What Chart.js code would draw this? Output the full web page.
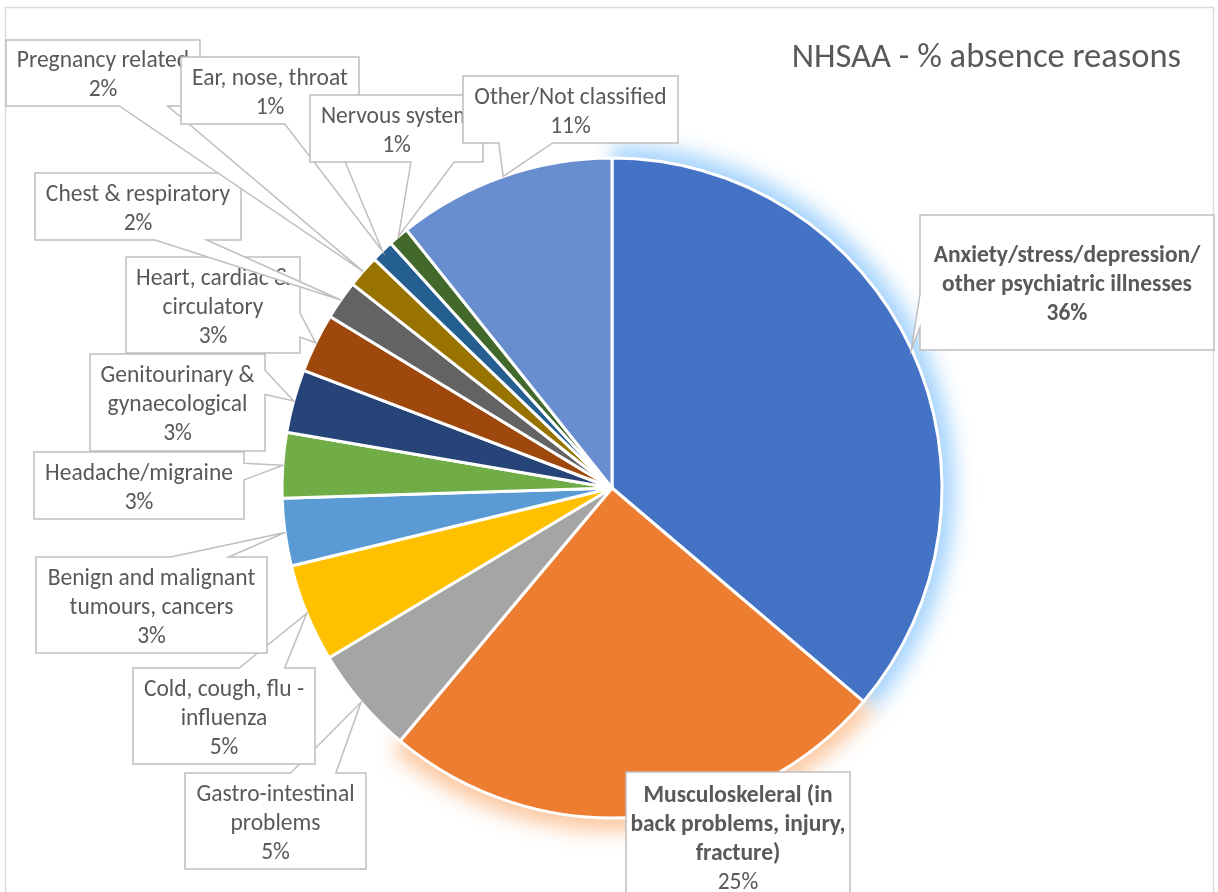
<!DOCTYPE html>
<html>
<head>
<meta charset="utf-8">
<title>NHSAA - % absence reasons</title>
<script src="https://cdn.jsdelivr.net/npm/chart.js@4.4.1/dist/chart.umd.min.js"></script>
<style>
  html, body { margin: 0; padding: 0; background: #fff; }
  canvas { display: block; }
</style>
</head>
<body>
<canvas id="absenceChart" width="1218" height="892"></canvas>
<script>
// Absence reasons, clockwise from 12 o'clock
var categories = [
    'Anxiety/stress/depression/other psychiatric illnesses',
    'Musculoskeleral (in back problems, injury, fracture)',
    'Gastro-intestinal problems',
    'Cold, cough, flu - influenza',
    'Benign and malignant tumours, cancers',
    'Headache/migraine',
    'Genitourinary & gynaecological',
    'Heart, cardiac & circulatory',
    'Chest & respiratory',
    'Pregnancy related',
    'Ear, nose, throat',
    'Nervous system',
    'Other/Not classified'
];
var values = [36.2, 24.9, 5.3, 4.8, 3.3, 3.2, 3.1, 2.9, 1.9, 1.6, 1.1, 1.0, 10.7];
var sliceColors = ['#4472C4', '#ED7D31', '#A5A5A5', '#FFC000', '#5B9BD5', '#70AD47',
    '#264478', '#9E480E', '#636363', '#997300', '#255E91', '#43682B', '#698ED0'];
var chartTitle = 'NHSAA - % absence reasons';

// callout boxes (same order as categories)
var calloutBoxes = [
    { x: 920, y: 215, w: 294, h: 135, bold: 'all' },
    { x: 626, y: 772, w: 224, h: 130, bold: 'name' },
    { x: 185, y: 773, w: 181, h: 96 },
    { x: 133, y: 668, w: 182, h: 96 },
    { x: 36, y: 557, w: 231, h: 96 },
    { x: 34, y: 452, w: 210, h: 67 },
    { x: 90, y: 354, w: 175, h: 97 },
    { x: 126, y: 257, w: 174, h: 96 },
    { x: 35, y: 173, w: 206, h: 67 },
    { x: 6, y: 40, w: 194, h: 66 },
    { x: 181, y: 57, w: 178, h: 67 },
    { x: 310, y: 95, w: 173, h: 67 },
    { x: 463, y: 76, w: 215, h: 67 }
];

var textColor = '#595959';
var fontFamily = 'Carlito, Lato, "Open Sans", sans-serif';
var lineHeight = 29;

function wrapText(ctx, text, maxWidth) {
    var tokens = text.match(/[^ \/]+\/?|\//g);
    var lines = [], line = '';
    tokens.forEach(function (tok) {
        var joiner = (line === '' || line.slice(-1) === '/') ? '' : ' ';
        var test = line + joiner + tok;
        if (line !== '' && ctx.measureText(test).width > maxWidth) {
            lines.push(line);
            line = tok;
        } else {
            line = test;
        }
    });
    if (line) lines.push(line);
    return lines;
}

// rectangle callout with a wedge pointing at (tx, ty)
function calloutPath(ctx, b, tx, ty) {
    var l = b.x, t = b.y, r = b.x + b.w, bt = b.y + b.h;
    var dx = tx - (l + b.w / 2), dy = ty - (t + b.h / 2);
    var inside = tx >= l && tx <= r && ty >= t && ty <= bt;
    var vertical = Math.abs(dy) > Math.abs(dx * b.h / b.w);
    var x1 = l + b.w * (dx > 0 ? 7 : 2) / 12, x2 = l + b.w * (dx > 0 ? 10 : 5) / 12;
    var y1 = t + b.h * (dy > 0 ? 7 : 2) / 12, y2 = t + b.h * (dy > 0 ? 10 : 5) / 12;
    ctx.beginPath();
    ctx.moveTo(l, t);
    if (!inside && vertical && dy < 0) { ctx.lineTo(x1, t); ctx.lineTo(tx, ty); ctx.lineTo(x2, t); }
    ctx.lineTo(r, t);
    if (!inside && !vertical && dx > 0) { ctx.lineTo(r, y1); ctx.lineTo(tx, ty); ctx.lineTo(r, y2); }
    ctx.lineTo(r, bt);
    if (!inside && vertical && dy > 0) { ctx.lineTo(x2, bt); ctx.lineTo(tx, ty); ctx.lineTo(x1, bt); }
    ctx.lineTo(l, bt);
    if (!inside && !vertical && dx < 0) { ctx.lineTo(l, y2); ctx.lineTo(tx, ty); ctx.lineTo(l, y1); }
    ctx.closePath();
}

var frameAndTitle = {
    id: 'frameAndTitle',
    beforeDraw: function (chart) {
        var ctx = chart.ctx;
        ctx.save();
        ctx.fillStyle = '#fff';
        ctx.fillRect(0, 0, chart.width, chart.height);
        ctx.strokeStyle = '#D9D9D9';
        ctx.lineWidth = 1.5;
        ctx.strokeRect(5.5, 7.5, 1208, 900);
        ctx.restore();
    },
    afterDraw: function (chart) {
        var ctx = chart.ctx;
        ctx.save();
        ctx.fillStyle = textColor;
        ctx.font = '34.5px ' + fontFamily;
        ctx.textAlign = 'right';
        ctx.textBaseline = 'middle';
        ctx.fillText(chartTitle, 1181, 58);
        ctx.restore();
    }
};

var sliceGlow = {
    id: 'sliceGlow',
    beforeDatasetsDraw: function (chart) {
        var ctx = chart.ctx;
        var arcs = chart.getDatasetMeta(0).data;
        [[0, 'rgba(150, 205, 252, 0.85)'], [1, 'rgba(250, 190, 145, 0.85)']].forEach(function (g) {
            var p = arcs[g[0]].getProps(['x', 'y', 'startAngle', 'endAngle', 'outerRadius']);
            ctx.save();
            ctx.filter = 'blur(10px)';
            ctx.beginPath();
            ctx.moveTo(p.x, p.y);
            ctx.arc(p.x, p.y, p.outerRadius + 13, p.startAngle, p.endAngle);
            ctx.closePath();
            ctx.fillStyle = g[1];
            ctx.fill();
            ctx.restore();
        });
    }
};

var callouts = {
    id: 'callouts',
    afterDatasetsDraw: function (chart) {
        var ctx = chart.ctx;
        var arcs = chart.getDatasetMeta(0).data;
        var total = values.reduce(function (a, b) { return a + b; }, 0);
        arcs.forEach(function (arc, i) {
            var b = calloutBoxes[i];
            var p = arc.getProps(['x', 'y', 'startAngle', 'endAngle', 'outerRadius']);
            var mid = (p.startAngle + p.endAngle) / 2;
            var tx = p.x + Math.cos(mid) * p.outerRadius;
            var ty = p.y + Math.sin(mid) * p.outerRadius;

            ctx.save();
            calloutPath(ctx, b, tx, ty);
            ctx.fillStyle = '#fff';
            ctx.fill();
            ctx.strokeStyle = '#BFBFBF';
            ctx.lineWidth = 1.5;
            ctx.lineJoin = 'miter';
            ctx.stroke();

            var nameFont = (b.bold ? 'bold ' : '') + '23.5px ' + fontFamily;
            var pctFont = (b.bold === 'all' ? 'bold ' : '') + '23.5px ' + fontFamily;
            ctx.font = nameFont;
            var lines = wrapText(ctx, categories[i], b.w);
            var pct = Math.round(values[i] / total * 100) + '%';
            var n = lines.length + 1;
            var cx = b.x + b.w / 2, cy = b.y + b.h / 2 + 3;
            ctx.fillStyle = textColor;
            ctx.textAlign = 'center';
            ctx.textBaseline = 'middle';
            lines.forEach(function (ln, k) {
                ctx.fillText(ln, cx, cy + (k - (n - 1) / 2) * lineHeight);
            });
            ctx.font = pctFont;
            ctx.fillText(pct, cx, cy + (n - 1) / 2 * lineHeight);
            ctx.restore();
        });
    }
};

var ctx = document.getElementById('absenceChart').getContext('2d');
var absenceChart = new Chart(ctx, {
    type: 'pie',
    data: {
        labels: categories,
        datasets: [{
            data: values,
            backgroundColor: sliceColors,
            borderColor: '#ffffff',
            borderWidth: 3
        }]
    },
    options: {
        responsive: false,
        animation: false,
        devicePixelRatio: 1,
        radius: 330,
        layout: { padding: { left: 282, right: 276, top: 158, bottom: 74 } },
        plugins: {
            legend: { display: false },
            tooltip: { enabled: false },
            title: { display: false }
        }
    },
    plugins: [frameAndTitle, sliceGlow, callouts]
});
</script>
</body>
</html>
